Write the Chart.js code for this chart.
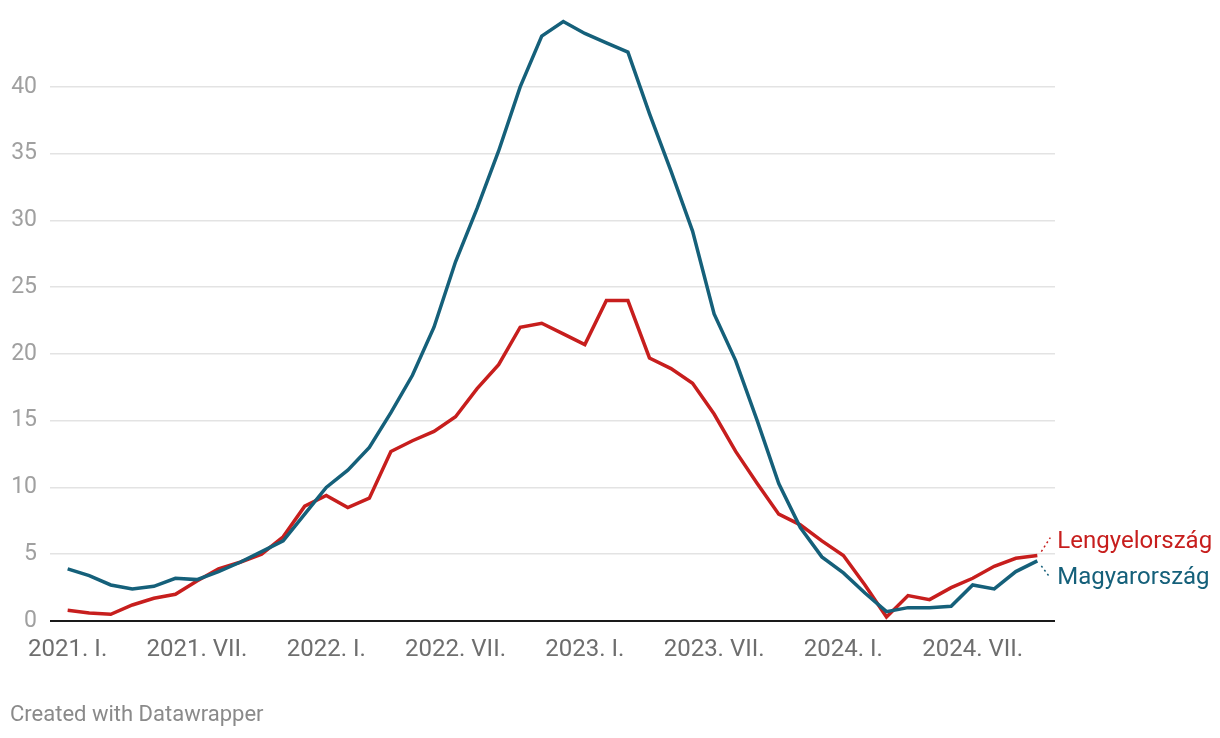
<!DOCTYPE html>
<html>
<head>
    <title>Lengyelország és Magyarország</title>
    <script src="https://cdn.jsdelivr.net/npm/chart.js"></script>
    <style>
        body { margin: 0; background: #fff; font-family: Roboto, sans-serif; }
        #wrap { position: relative; width: 1220px; height: 738px; }
        #credit { position: absolute; left: 10px; top: 701px; font-size: 22px; color: #8a8a8a; }
    </style>
</head>
<body>
    <div id="wrap">
        <canvas id="chart"></canvas>
        <div id="credit">Created with Datawrapper</div>
    </div>
<script>
// monthly values, 2021 Jan .. 2024 Oct
const months = [];
for (let i = 0; i < 46; i++) months.push(i);

const poland = [0.8, 0.6, 0.5, 1.2, 1.7, 2.0, 3.0, 3.9, 4.4, 5.0, 6.3, 8.6,
                9.4, 8.5, 9.2, 12.7, 13.5, 14.2, 15.3, 17.4, 19.2, 22.0, 22.3, 21.5,
                20.7, 24.0, 24.0, 19.7, 18.9, 17.8, 15.5, 12.7, 10.3, 8.0, 7.2, 6.0,
                4.9, 2.7, 0.3, 1.9, 1.6, 2.5, 3.2, 4.1, 4.7, 4.9];
const hungary = [3.9, 3.4, 2.7, 2.4, 2.6, 3.2, 3.1, 3.7, 4.4, 5.2, 6.0, 8.0,
                 10.0, 11.3, 13.0, 15.6, 18.4, 22.0, 26.9, 30.9, 35.2, 40.0, 43.8, 44.9,
                 44.0, 43.3, 42.6, 38.0, 33.7, 29.2, 23.0, 19.5, 15.0, 10.3, 7.0, 4.8,
                 3.6, 2.1, 0.7, 1.0, 1.0, 1.1, 2.7, 2.4, 3.7, 4.5];

const tickMonths = [0, 6, 12, 18, 24, 30, 36, 42];
const tickLabels = ['2021. I.', '2021. VII.', '2022. I.', '2022. VII.',
                    '2023. I.', '2023. VII.', '2024. I.', '2024. VII.'];
const yTicks = [0, 5, 10, 15, 20, 25, 30, 35, 40];

const RED = '#c71e1d';
const BLUE = '#15607a';

function toPoints(vals) {
    return vals.map((v, i) => ({ x: months[i], y: v }));
}

// labels at the end of each line, with dotted connector
const endLabels = {
    id: 'endLabels',
    afterDatasetsDraw(chart) {
        const ctx = chart.ctx;
        const offsets = [-14, 17];
        chart.data.datasets.forEach((ds, di) => {
            const meta = chart.getDatasetMeta(di);
            const pt = meta.data[meta.data.length - 1];
            const dy = offsets[di];
            ctx.save();
            ctx.strokeStyle = ds.borderColor;
            ctx.lineWidth = 1.5;
            ctx.setLineDash([2, 3]);
            ctx.beginPath();
            if (dy < 0) {
                ctx.moveTo(pt.x + 4, pt.y - 4);
                ctx.lineTo(pt.x + 13, pt.y - 18);
            } else {
                ctx.moveTo(pt.x + 4, pt.y + 5);
                ctx.lineTo(pt.x + 13, pt.y + 17);
            }
            ctx.stroke();
            ctx.setLineDash([]);
            ctx.fillStyle = ds.borderColor;
            ctx.font = '24px Roboto';
            ctx.textBaseline = 'middle';
            ctx.textAlign = 'left';
            ctx.fillText(ds.label, pt.x + 20, pt.y + dy);
            ctx.restore();
        });
    }
};

const chart = new Chart(document.getElementById('chart'), {
    type: 'line',
    data: {
        datasets: [
            { label: 'Lengyelország', data: toPoints(poland), borderColor: RED,
              borderWidth: 3.5, pointRadius: 0, tension: 0, order: 2, clip: false },
            { label: 'Magyarország', data: toPoints(hungary), borderColor: BLUE,
              borderWidth: 3.5, pointRadius: 0, tension: 0, order: 1, clip: false }
        ]
    },
    options: {
        responsive: true,
        maintainAspectRatio: false,
        animation: false,
        events: [],
        layout: { padding: { top: 12, right: 165, bottom: 72, left: 0 } },
        plugins: { legend: { display: false }, tooltip: { enabled: false } },
        scales: {
            x: {
                type: 'linear',
                min: -0.82,
                max: 45.82,
                afterBuildTicks: s => { s.ticks = tickMonths.map(v => ({ value: v })); },
                afterFit: s => { s.height = 45; },
                grid: { display: false },
                border: { display: false },
                ticks: {
                    autoSkip: false,
                    maxRotation: 0,
                    padding: 7,
                    color: '#6e6e6e',
                    font: { family: 'Roboto', size: 24 },
                    callback: v => tickLabels[tickMonths.indexOf(v)]
                }
            },
            y: {
                min: 0,
                max: 44.5,
                afterBuildTicks: s => { s.ticks = yTicks.map(v => ({ value: v })); },
                afterFit: s => { s.width = 50; },
                border: { display: false },
                grid: {
                    drawTicks: false,
                    color: c => c.tick.value === 0 ? '#1a1a1a' : '#e3e3e3',
                    lineWidth: c => c.tick.value === 0 ? 2 : 1.5
                },
                ticks: {
                    padding: 13,
                    color: '#a0a0a0',
                    font: { family: 'Roboto', size: 23 }
                }
            }
        }
    },
    plugins: [endLabels]
});
</script>
</body>
</html>
